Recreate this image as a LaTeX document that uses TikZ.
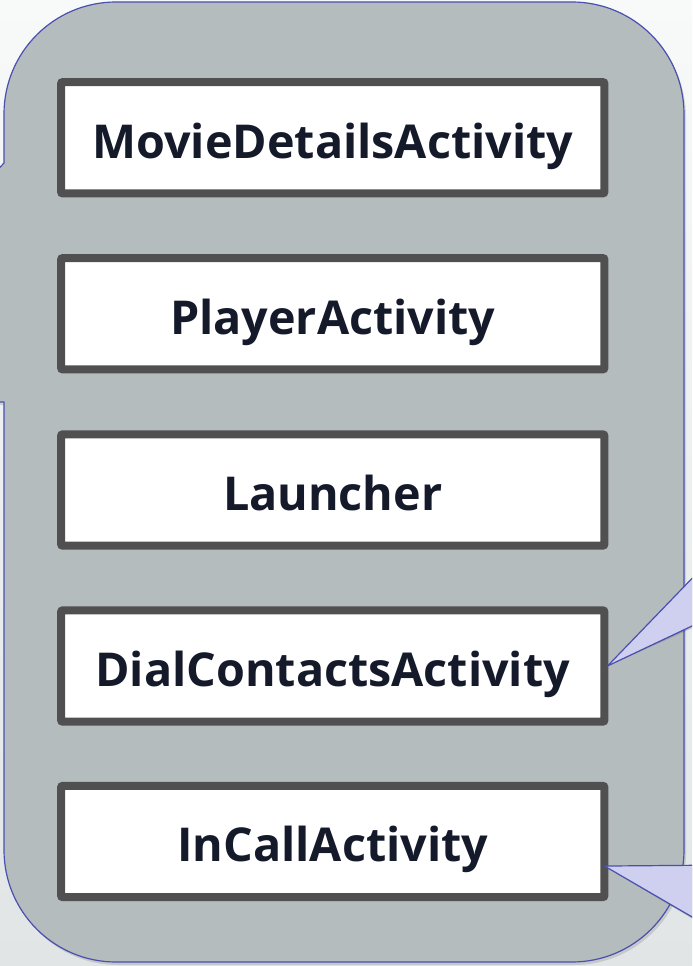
\documentclass[tikz,border=0pt]{standalone}
\usepackage{fontspec}
\setmainfont{Open Sans}
\definecolor{pagetop}{HTML}{F8F9F9}
\definecolor{pagebot}{HTML}{E1E5E5}
\definecolor{panel}{HTML}{B5BCBD}
\definecolor{edgeblue}{HTML}{4A4FB0}
\definecolor{tipfill}{HTML}{CFD0F0}
\definecolor{boxline}{HTML}{505050}
\definecolor{ink}{HTML}{151A2B}
\tikzset{
  actbox/.style={draw=boxline, line width=6pt, fill=white, rounded corners=1.5pt,
    minimum width=407.6pt, minimum height=83.6pt, inner sep=0pt,
    text height=30.6pt, text depth=0pt,
    font=\bfseries\fontsize{35}{40}\selectfont, text=ink},
  calloutedge/.style={draw=edgeblue, line width=0.9pt, line join=round},
}
\begin{document}
\begin{tikzpicture}[x=0.75pt, y=-0.75pt]
  \useasboundingbox (0,0) rectangle (692,966);
  \clip (0,0) rectangle (692,966);
  % page background
  \shade[top color=pagetop, bottom color=pagebot] (0,0) rectangle (692,966);

  % grey callout panel with a pointer leaving to the left
  % (y runs downward, so arc angles are measured clockwise)
  \def\panelpath{(116,2) -- (572,2) arc[start angle=-90, end angle=0, radius=112]
    -- (684,850) arc[start angle=0, end angle=90, radius=112]
    -- (116,962) arc[start angle=90, end angle=180, radius=112]
    -- (4,402) -- (-220,402) -- (4,163)
    -- (4,114) arc[start angle=180, end angle=270, radius=112] -- cycle}
  \fill[black, opacity=0.12] [shift={(2,3)}] \panelpath;
  \fill[panel] \panelpath;
  \draw[calloutedge] \panelpath;

  % activity boxes
  \node[actbox] (movie)  at (332.75,137.75) {MovieDetailsActivity};
  \node[actbox] (player) at (332.75,313.75) {PlayerActivity};
  \node[actbox] (launch) at (332.75,490)    {Launcher};
  \node[actbox] (dial)   at (332.75,666)    {DialContactsActivity};
  \node[actbox] (incall) at (332.75,841.5)  {InCallActivity};

  % pointers of the callouts on the right
  \coordinate (tipA) at ([xshift=-0.75pt]dial.east);
  \coordinate (tipB) at ([xshift=-3pt, yshift=-18.4pt]incall.east);
  \fill[black, opacity=0.15] [shift={(1,3)}] (tipA) -- (730,539) -- (730,608) -- cycle;
  \fill[black, opacity=0.15] [shift={(1,3)}] (tipB) -- (730,865) -- (730,939) -- cycle;
  \filldraw[fill=tipfill, calloutedge] (tipA) -- (730,539) -- (730,608) -- cycle;
  \filldraw[fill=tipfill, calloutedge] (tipB) -- (730,865) -- (730,939) -- cycle;
\end{tikzpicture}
\end{document}
